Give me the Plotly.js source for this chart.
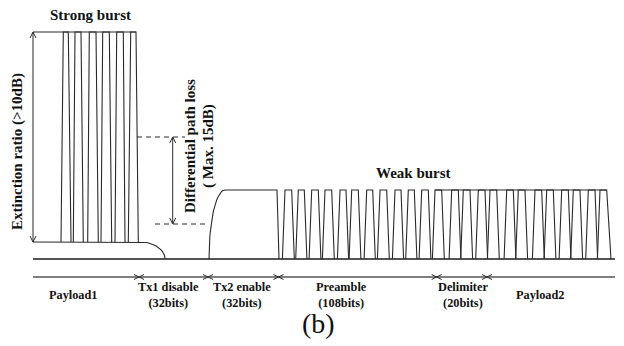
<!DOCTYPE html>
<html>
<head>
<meta charset="utf-8">
<script src="https://cdn.plot.ly/plotly-3.0.1.min.js"></script>
<style>html,body{margin:0;padding:0;background:#fff;}#chart{width:624px;height:346px;}</style>
</head>
<body>
<div id="chart"></div>
<script>
// ---- signal levels (diagram units, y grows downward) ----
const strongHigh = 32;
const strongLow = 242;
const weakHigh = 190;
const offLevel = 259;
const timeAxisY = 277;

// ---- strong burst pulses ----
const strongRiseStart = [61, 73.3, 87.7, 101, 115, 128.3];
const strongTopStart  = [63.3, 75, 89.3, 102.7, 116.7, 130.7];
const strongTopEnd    = [68.3, 81, 96, 109.3, 123.3, 136];
const strongFallEnd   = [71, 83.3, 98.3, 111.7, 125, 138.3];
const strongSpan = [33, 136];        // top rail
const strongLowSpan = [33, 140];     // low rail
const strongDecayEnd = 165;          // Tx1 turn-off tail reaches off level

// ---- weak burst ----
const enableRise = [209, 225];       // Tx2 turn-on ramp (start, top reached)
const enableTopEnd = 277;
const enableFallEnd = 279;
const preTopStart = [285, 298.3, 311.7, 325, 340, 351.7, 366.7, 380, 395, 408.3, 421.7];
const preTopEnd   = [291.7, 304.3, 318.3, 331.7, 346, 358.3, 372.7, 386.7, 401, 414.3, 428.3];
const payTopStart = [435, 451.7, 463.3, 478.3, 490, 506.7, 518.3, 535, 546.7, 561.7, 573.3, 588.3, 600];
const payTopEnd   = [441.7, 458.3, 470, 485, 496.7, 513.3, 525, 541.7, 553.3, 568.3, 580, 595, 606.7];
const weakSlant = 2.6;
const baselineSpan = [33, 615];

// ---- differential path loss markers ----
const diffUpper = {y: 137, x0: 137, x1: 185};
const diffLower = {y: 224, x0: 155, x1: 208};
const diffArrowX = 172.7;
const extArrowX = 33;

// ---- time axis segments ----
const segBounds = [33, 139, 208, 278.5, 436.7, 487, 615];
const segLabels = ["Payload1", "Tx1 disable<br>(32bits)", "Tx2 enable<br>(32bits)", "Preamble<br>(108bits)", "Delimiter<br>(20bits)", "Payload2"];
const segLabelX = [73, 168, 241.7, 341.7, 463.3, 540];
const segLabelTwoLine = [false, true, true, true, true, false];

// ---- titles ----
const titleStrong = "Strong burst";
const titleWeak = "Weak burst";
const titleExt = "Extinction ratio (>10dB)";
const titleDiff1 = "Differential path loss";
const titleDiff2 = "( Max. 15dB)";
const caption = "(b)";

// ===== build geometry =====
const wx = [], wy = [];
function seg(pts){ pts.forEach(p=>{wx.push(p[0]); wy.push(p[1]);}); wx.push(null); wy.push(null); }

// strong rails
seg([[strongSpan[0], strongHigh],[strongSpan[1], strongHigh]]);
// strong pulses
for (let i=0;i<strongRiseStart.length;i++){
  seg([[strongRiseStart[i], strongLow],[strongTopStart[i], strongHigh],[strongTopEnd[i], strongHigh],[strongFallEnd[i], strongLow]]);
}
// low rail + decay tail (quarter ellipse)
(function(){
  const pts=[[strongLowSpan[0], strongLow],[strongLowSpan[1], strongLow]];
  const a = strongDecayEnd - strongLowSpan[1], b = offLevel - strongLow;
  for (let k=1;k<=20;k++){ const t=k/20*Math.PI/2; pts.push([strongLowSpan[1]+a*Math.sin(t), strongLow + b*(1-Math.cos(t))]); }
  seg(pts);
})();
// weak enable block (quarter ellipse ramp)
(function(){
  const pts=[];
  const a = enableRise[1]-enableRise[0], b = offLevel - weakHigh;
  for (let k=0;k<=20;k++){ const t=k/20*Math.PI/2; pts.push([enableRise[1]-a*Math.cos(t), offLevel - b*Math.sin(t)]); }
  pts.push([enableTopEnd, weakHigh]); pts.push([enableFallEnd, offLevel]);
  seg(pts);
})();
// preamble pulses
for (let i=0;i<preTopStart.length;i++){
  seg([[preTopStart[i]-weakSlant, offLevel],[preTopStart[i], weakHigh],[preTopEnd[i], weakHigh],[preTopEnd[i]+weakSlant, offLevel]]);
}
// delimiter + payload pulses with continuous top rail
seg([[payTopStart[0], weakHigh],[payTopEnd[payTopEnd.length-1], weakHigh]]);
for (let i=0;i<payTopStart.length;i++){
  const fall = (i===payTopStart.length-1) ? 4.3 : weakSlant;
  seg([[payTopStart[i]-weakSlant, offLevel],[payTopStart[i], weakHigh],[payTopEnd[i], weakHigh],[payTopEnd[i]+fall, offLevel]]);
}

// arrows
const ax = [], ay = [];
function vArrow(x, y0, y1){
  const h=6, w=3;
  ax.push(x,x,null, x-w,x,x+w,null, x-w,x,x+w,null);
  ay.push(y0,y1,null, y0+h,y0,y0+h,null, y1-h,y1,y1-h,null);
}
vArrow(extArrowX, strongHigh, strongLow);
vArrow(diffArrowX, diffUpper.y, diffLower.y);

// time axis crosses
const cx = [], cy = [];
for (let i=1;i<segBounds.length-1;i++){
  const c = segBounds[i];
  cx.push(c-5, c+5, null, c-5, c+5, null);
  cy.push(timeAxisY-2.5, timeAxisY+2.5, null, timeAxisY+2.5, timeAxisY-2.5, null);
}

const lineCol = '#2a2a2a';
const traces = [
  {x:[baselineSpan[0], baselineSpan[1]], y:[offLevel, offLevel], mode:'lines', line:{color:'#555', width:1.8}, hoverinfo:'skip'},
  {x:[segBounds[0], segBounds[segBounds.length-1]], y:[timeAxisY, timeAxisY], mode:'lines', line:{color:'#555', width:1.6}, hoverinfo:'skip'},
  {x:wx, y:wy, mode:'lines', line:{color:lineCol, width:1.1}, hoverinfo:'skip'},
  {x:ax, y:ay, mode:'lines', line:{color:lineCol, width:1}, hoverinfo:'skip'},
  {x:cx, y:cy, mode:'lines', line:{color:lineCol, width:1}, hoverinfo:'skip'},
  {x:[diffUpper.x0, diffUpper.x1, null, diffLower.x0, diffLower.x1], y:[diffUpper.y, diffUpper.y, null, diffLower.y, diffLower.y],
   mode:'lines', line:{color:lineCol, width:1, dash:'5px,4px'}, hoverinfo:'skip'}
];

const serif = 'Liberation Serif';
const ann = [];
function txt(x, y, t, size, angle, bold){
  ann.push({x:x, y:y, xref:'x', yref:'y', text:t, showarrow:false, textangle:angle||0,
    font:{family:serif, size:size, color:'#111', weight: bold===false ? 'normal' : 'bold'}, xanchor:'center', yanchor:'middle'});
}
txt(90, 15, titleStrong, 15);
txt(413, 173, titleWeak, 15);
txt(17, 152, titleExt, 15, -90);
txt(190, 146, titleDiff1, 15, -90);
txt(208, 146, titleDiff2, 15, -90);
for (let i=0;i<segLabels.length;i++){
  txt(segLabelX[i], segLabelTwoLine[i] ? 295 : 294.5, segLabels[i], 12.3);
}
txt(318, 323, caption, 28, 0, false);

const layout = {
  width:624, height:346,
  margin:{l:0,r:0,t:0,b:0},
  paper_bgcolor:'#fff', plot_bgcolor:'#fff',
  showlegend:false,
  xaxis:{range:[0,624], visible:false, fixedrange:true},
  yaxis:{range:[346,0], visible:false, fixedrange:true},
  annotations: ann
};
Plotly.newPlot('chart', traces, layout, {staticPlot:true, displayModeBar:false});
</script>
</body>
</html>
